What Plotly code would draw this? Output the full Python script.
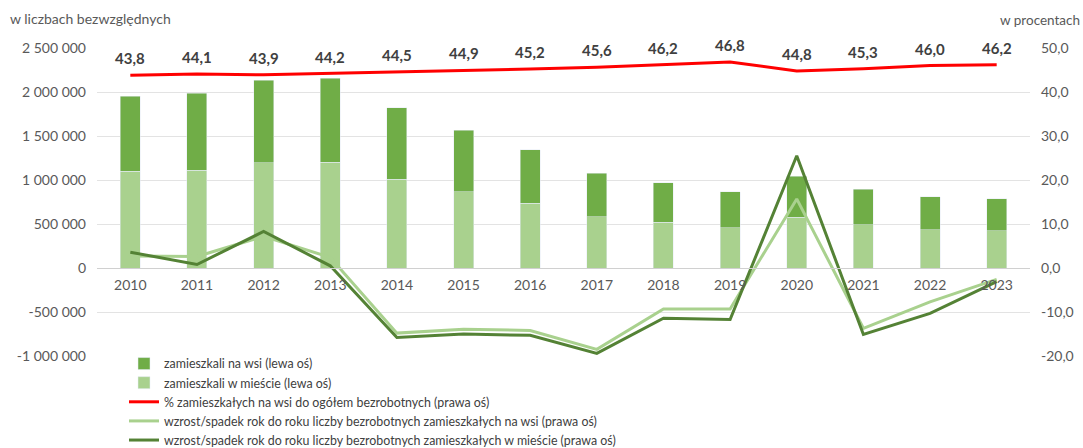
import plotly.graph_objects as go

years = list(range(2010, 2024))
village = [856000, 875000, 938000, 953000, 811000, 704000, 606000, 491000, 448000, 404000, 468000, 405000, 373000, 364000]
city = [1098000, 1110000, 1198000, 1203000, 1011000, 864000, 735000, 585000, 521000, 460000, 577000, 489000, 437000, 424000]
pct_village = [43.8, 44.1, 43.9, 44.2, 44.5, 44.9, 45.2, 45.6, 46.2, 46.8, 44.8, 45.3, 46.0, 46.2]
growth_village = [2.7, 2.6, 7.2, 2.4, -14.8, -13.9, -14.2, -18.5, -9.3, -9.3, 15.7, -13.7, -7.7, -2.6]
growth_city = [3.6, 0.8, 8.3, 0.5, -15.8, -15.0, -15.3, -19.4, -11.4, -11.7, 25.5, -15.1, -10.3, -3.1]

left_ticks = [-1000000, -500000, 0, 500000, 1000000, 1500000, 2000000, 2500000]
left_ticktext = ["-1 000 000", "-500 000", "0", "500 000", "1 000 000", "1 500 000", "2 000 000", "2 500 000"]
right_ticks = [-20, -10, 0, 10, 20, 30, 40, 50]
right_ticktext = ["-20,0", "-10,0", "0,0", "10,0", "20,0", "30,0", "40,0", "50,0"]

names = [
    "zamieszkali na wsi (lewa oś)",
    "zamieszkali w mieście (lewa oś)",
    "% zamieszkałych na wsi do ogółem bezrobotnych (prawa oś)",
    "wzrost/spadek rok do roku liczby bezrobotnych zamieszkałych na wsi (prawa oś)",
    "wzrost/spadek rok do roku liczby bezrobotnych zamieszkałych w mieście (prawa oś)",
]

FONT = "Lato"
TICK_COLOR = "#595959"
TEXT_COLOR = "#404040"
GRID = "#e3e3e3"

fig = go.Figure()
fig.add_trace(go.Bar(x=years, y=city, name=names[1], marker_color="#A9D18E",
                     width=0.3, legendrank=2, yaxis="y"))
fig.add_trace(go.Bar(x=years, y=village, name=names[0], marker_color="#70AD47",
                     width=0.3, legendrank=1, yaxis="y"))
fig.add_trace(go.Scatter(x=years, y=pct_village, name=names[2], mode="lines",
                         line=dict(color="#FF0000", width=3), yaxis="y2", legendrank=3))
fig.add_trace(go.Scatter(x=years, y=growth_village, name=names[3], mode="lines",
                         line=dict(color="#A9D18E", width=3), yaxis="y2", legendrank=4))
fig.add_trace(go.Scatter(x=years, y=growth_city, name=names[4], mode="lines",
                         line=dict(color="#548235", width=3), yaxis="y2", legendrank=5))

L, R, T, B = 97, 53, 48, 92
W, H = 1083, 448
pw, ph = W - L - R, H - T - B

annotations = []
for yr, v in zip(years, pct_village):
    annotations.append(dict(x=yr, y=v, xref="x", yref="y2", yshift=17,
                            text="<b>" + f"{v:.1f}".replace(".", ",") + "</b>",
                            showarrow=False,
                            font=dict(family=FONT, size=15, color=TEXT_COLOR)))
annotations.append(dict(x=(8 - L) / pw, y=(H - B - 18) / ph, xref="paper", yref="paper",
                        xanchor="left", yanchor="middle",
                        text="w liczbach bezwzględnych", showarrow=False,
                        font=dict(family=FONT, size=14, color=TICK_COLOR)))
annotations.append(dict(x=(1082 - L) / pw, y=(H - B - 20) / ph, xref="paper", yref="paper",
                        xanchor="right", yanchor="middle",
                        text="w procentach", showarrow=False,
                        font=dict(family=FONT, size=13.5, color=TICK_COLOR)))

fig.update_layout(
    width=W, height=H,
    margin=dict(l=L, r=R, t=T, b=B, autoexpand=False),
    paper_bgcolor="white", plot_bgcolor="white",
    barmode="stack",
    separators=", ",
    font=dict(family=FONT, size=14, color=TICK_COLOR),
    xaxis=dict(range=[2009.5, 2023.5], tickvals=years, ticktext=[str(y) for y in years],
               anchor="free", position=2 / 7, showgrid=False, zeroline=False,
               showline=True, linecolor="#d0d0d0", linewidth=1, ticks="",
               ticklabelstandoff=4,
               tickfont=dict(family=FONT, size=14, color=TICK_COLOR)),
    yaxis=dict(range=[-1000000, 2500000], tickvals=left_ticks, ticktext=left_ticktext,
               showgrid=True, gridcolor=GRID, gridwidth=1, zeroline=False,
               ticks="", ticklabelstandoff=10,
               tickfont=dict(family=FONT, size=14, color=TICK_COLOR)),
    yaxis2=dict(range=[-20, 50], tickvals=right_ticks, ticktext=right_ticktext,
                overlaying="y", side="right", showgrid=False, zeroline=False,
                ticks="", ticklabelstandoff=10,
                tickfont=dict(family=FONT, size=14, color=TICK_COLOR)),
    legend=dict(x=(124 - L) / pw, y=(H - B - 349) / ph, xanchor="left", yanchor="top",
                traceorder="normal", tracegroupgap=0, bgcolor="rgba(0,0,0,0)",
                font=dict(family=FONT, size=12.4, color=TEXT_COLOR)),
    annotations=annotations,
    showlegend=True,
)

fig.write_html("out.html")
